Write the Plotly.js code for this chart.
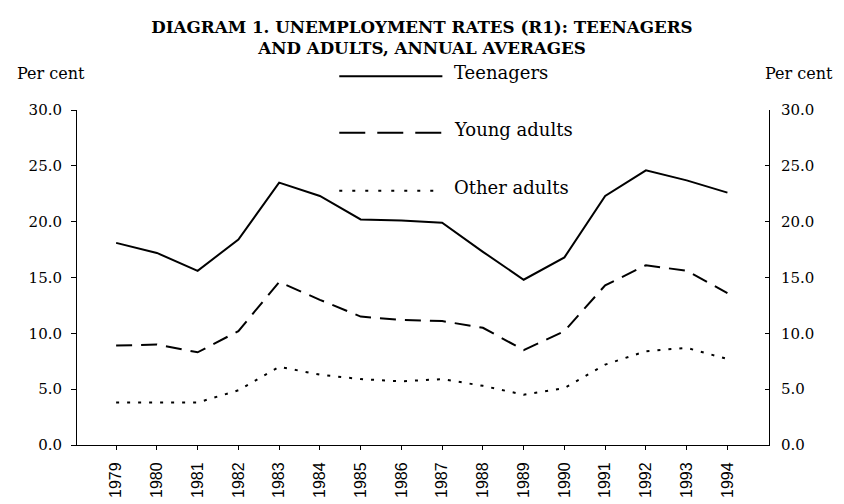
<!DOCTYPE html>
<html>
<head>
<meta charset="utf-8">
<script src="https://cdn.plot.ly/plotly-3.0.1.min.js"></script>
<style>html,body{margin:0;padding:0;background:#fff;}#chart{width:844px;height:504px;}</style>
</head>
<body>
<div id="chart"></div>
<script>
var years = ['1979','1980','1981','1982','1983','1984','1985','1986','1987','1988','1989','1990','1991','1992','1993','1994'];
var teenagers   = [18.1, 17.2, 15.6, 18.4, 23.5, 22.3, 20.2, 20.1, 19.9, 17.3, 14.8, 16.8, 22.3, 24.6, 23.7, 22.6];
var youngAdults = [8.9, 9.0, 8.3, 10.2, 14.6, 13.0, 11.5, 11.2, 11.1, 10.5, 8.5, 10.2, 14.3, 16.1, 15.6, 13.6];
var otherAdults = [3.8, 3.8, 3.8, 4.9, 7.0, 6.3, 5.9, 5.7, 5.9, 5.3, 4.5, 5.1, 7.2, 8.4, 8.7, 7.7];
var yTicks = [0, 5, 10, 15, 20, 25, 30];
var seriesNames = ['Teenagers', 'Young adults', 'Other adults'];

var serif = 'DejaVu Serif, serif';
var sans = 'Liberation Sans, Arial, sans-serif';
var x = years.map(Number);

var traces = [
  {x: x, y: teenagers, name: seriesNames[0], mode: 'lines', line: {color: '#000', width: 2}},
  {x: x, y: youngAdults, name: seriesNames[1], mode: 'lines', line: {color: '#000', width: 2, dash: '16px,9px'}},
  {x: x, y: otherAdults, name: seriesNames[2], mode: 'lines', line: {color: '#000', width: 2, dash: '3px,8px'}},
  {x: x, y: teenagers, yaxis: 'y2', mode: 'lines', line: {color: 'rgba(0,0,0,0)'}, hoverinfo: 'skip', showlegend: false}
];

var legDashes = ['solid', '26px,12px', '3px,10px'];
var legY = [1.101, 0.932, 0.759];
var shapes = [], anns = [];
for (var i = 0; i < 3; i++) {
  shapes.push({type: 'line', xref: 'paper', yref: 'paper', x0: 0.379, x1: 0.528, y0: legY[i], y1: legY[i],
               line: {color: '#000', width: 2, dash: legDashes[i]}});
  anns.push({xref: 'paper', yref: 'paper', x: 0.542, y: legY[i] + 0.01, xanchor: 'left', yanchor: 'middle',
             text: seriesNames[i], showarrow: false, font: {family: serif, size: 18, color: '#000'}});
}
anns.push({xref: 'paper', yref: 'paper', x: -0.037, y: 1.11, xanchor: 'center', yanchor: 'middle',
           text: 'Per cent', showarrow: false, font: {family: serif, size: 16, color: '#000'}});
anns.push({xref: 'paper', yref: 'paper', x: 1.043, y: 1.11, xanchor: 'center', yanchor: 'middle',
           text: 'Per cent', showarrow: false, font: {family: serif, size: 16, color: '#000'}});

var layout = {
  width: 844, height: 504,
  margin: {l: 77, r: 75, t: 110, b: 59},
  paper_bgcolor: '#fff', plot_bgcolor: '#fff',
  showlegend: false,
  title: {text: '<b>DIAGRAM 1. UNEMPLOYMENT RATES (R1): TEENAGERS<br>AND ADULTS, ANNUAL AVERAGES</b>',
          x: 0.5, xanchor: 'center', y: 0.935, yanchor: 'middle',
          font: {family: serif, size: 16.7, color: '#000'}},
  xaxis: {range: [1978.04, 1995.02], tickvals: x, ticktext: years, tickangle: -90,
          ticks: 'outside', ticklen: 4, tickcolor: '#000', showgrid: false, zeroline: false,
          showline: true, linecolor: '#000', linewidth: 1, ticklabelstandoff: 6,
          tickfont: {family: sans, size: 16, color: '#000'}},
  yaxis: {range: [0, 30], tickvals: yTicks, tickformat: '.1f', ticks: 'outside', ticklen: 5,
          tickcolor: '#000', showgrid: false, zeroline: false, showline: true, linecolor: '#000', linewidth: 1,
          ticklabelstandoff: 6,
          tickfont: {family: serif, size: 15, color: '#000'}},
  yaxis2: {range: [0, 30], tickvals: yTicks, tickformat: '.1f', overlaying: 'y', side: 'right',
           ticks: 'inside', ticklen: 4, tickcolor: '#000', showgrid: false, zeroline: false,
           showline: true, linecolor: '#000', linewidth: 1, ticklabelstandoff: 8,
           tickfont: {family: serif, size: 15, color: '#000'}},
  shapes: shapes,
  annotations: anns
};

Plotly.newPlot('chart', traces, layout, {displayModeBar: false, staticPlot: true});
</script>
</body>
</html>
